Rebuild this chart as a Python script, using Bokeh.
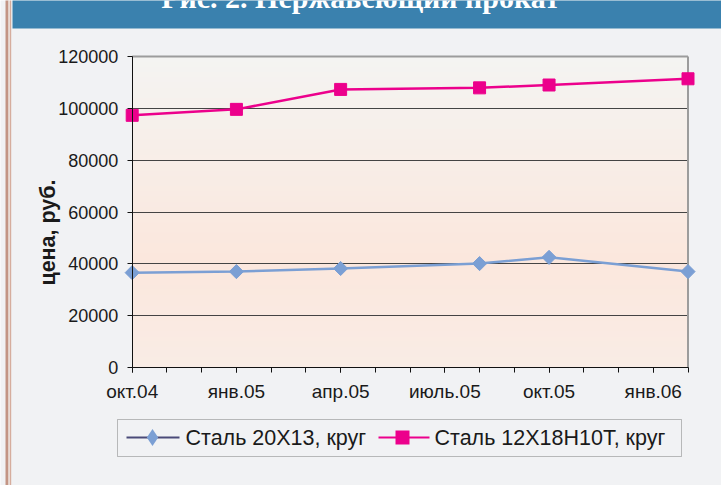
import numpy as np
from bokeh.plotting import figure
from bokeh.models import (Range1d, FixedTicker, BoxAnnotation, Label, PolyAnnotation,
                          Grid, BasicTickFormatter)
from bokeh.embed import file_html
from bokeh.resources import INLINE

# ---------------- data ----------------
title_text = "Рис. 2. Нержавеющий прокат"
y_label = "цена, руб."
series_names = ["Сталь 20Х13, круг", "Сталь 12Х18Н10Т, круг"]
dates = ["2004-10", "2005-01", "2005-04", "2005-08", "2005-10", "2006-02"]
steel_20x13 = [36600, 37000, 38200, 40100, 42500, 37000]
steel_12x18h10t = [97300, 99600, 107300, 107900, 109000, 111400]
tick_months = ["2004-10", "2005-01", "2005-04", "2005-07", "2005-10", "2006-01"]
tick_labels = ["окт.04", "янв.05", "апр.05", "июль.05", "окт.05", "янв.06"]
axis_start, axis_end = "2004-10", "2006-02"
y_ticks = [0, 20000, 40000, 60000, 80000, 100000, 120000]


def month_index(s):
    y, m = map(int, s.split("-"))
    y0, m0 = map(int, axis_start.split("-"))
    return (y - y0) * 12 + (m - m0)


x = [month_index(d) for d in dates]
tick_x = [month_index(d) for d in tick_months]
x_end = month_index(axis_end)
y_max = y_ticks[-1]

# ---------------- layout ----------------
W, H = 721, 485
BG = "#f1f2f4"
# pixel positions of the plot area inside the canvas
PL, PR, PT, PB = 131.7, 687.5, 56.0, 367.0
kx = x_end / (PR - PL)
ky = y_max / (PB - PT)
x_range = Range1d(-PL * kx, x_end + (W - PR) * kx)
y_range = Range1d(-(H - PB) * ky, y_max + PT * ky)

p = figure(width=W, height=H, output_backend="svg", toolbar_location=None,
           x_range=x_range, y_range=y_range,
           min_border_left=0, min_border_right=0,
           min_border_top=0, min_border_bottom=0)
p.background_fill_color = BG
p.border_fill_color = BG
p.outline_line_color = None


def sy(py):  # canvas px from top -> screen units (from bottom)
    return H - py


def sbox(l, r, t, b, color, level="overlay", line_color=None, line_width=1):
    return BoxAnnotation(left=l, right=r, top=sy(t), bottom=sy(b),
                         left_units="screen", right_units="screen",
                         top_units="screen", bottom_units="screen",
                         fill_color=color, fill_alpha=1, line_color=line_color,
                         line_width=line_width, level=level)


# plot-area gradient (decoration)
top_c = np.array([244, 244, 242])
mid_c = np.array([251, 231, 221])
bot_c = np.array([249, 236, 229])
n = 60
for i in range(n):
    b0 = y_max * i / n
    b1 = y_max * (i + 1) / n
    t = 1 - (b0 + b1) / 2 / y_max
    if t < 0.65:
        c = top_c + (mid_c - top_c) * (t / 0.65)
    else:
        c = mid_c + (bot_c - mid_c) * ((t - 0.65) / 0.35)
    c = tuple(int(round(v)) for v in c)
    p.add_layout(BoxAnnotation(left=0, right=x_end, bottom=b0, top=min(b1 + 600, y_max),
                               fill_color="#%02x%02x%02x" % c, fill_alpha=1,
                               line_color=None, level="image"))

# grid
p.xgrid.visible = False
GRID_C = "#444444"
if "cross_bounds" in Grid.properties():
    p.ygrid.ticker = FixedTicker(ticks=y_ticks[1:-1])
    p.ygrid.grid_line_color = GRID_C
    p.ygrid.grid_line_width = 1
    p.ygrid.cross_bounds = (0, x_end)
else:
    p.ygrid.visible = False
    gy = y_ticks[1:-1]
    p.segment(x0=[0] * len(gy), y0=gy, x1=[x_end] * len(gy), y1=gy,
              line_color=GRID_C, line_width=1, level="underlay")

# plot-area border (top and right, grey)
p.add_layout(BoxAnnotation(left=0, right=x_end, top=sy(PT - 1), bottom=sy(PT + 1),
                           top_units="screen", bottom_units="screen",
                           fill_color="#9c9c9c", fill_alpha=1, line_color=None,
                           level="underlay"))
p.add_layout(BoxAnnotation(left=PR - 1, right=PR + 1, top=y_max, bottom=0,
                           left_units="screen", right_units="screen",
                           fill_color="#9c9c9c", fill_alpha=1, line_color=None,
                           level="underlay"))

# axes
FONT = "Liberation Sans"
yax = p.yaxis[0]
yax.fixed_location = 0
yax.bounds = (0, y_max)
yax.ticker = FixedTicker(ticks=y_ticks)
yax.formatter = BasicTickFormatter(use_scientific=False)
yax.major_tick_out = 5
yax.major_tick_in = 0
yax.minor_tick_out = 0
yax.minor_tick_in = 0
yax.axis_line_color = "#111111"
yax.major_tick_line_color = "#111111"
yax.major_label_text_font = FONT
yax.major_label_text_font_size = "18px"
yax.major_label_text_color = "#1a1a1a"
yax.major_label_standoff = 9

xax = p.xaxis[0]
xax.fixed_location = 0
xax.bounds = (0, x_end)
xax.ticker = FixedTicker(ticks=tick_x, minor_ticks=list(range(0, x_end + 1)))
xax.major_label_overrides = {tx: lab for tx, lab in zip(tick_x, tick_labels)}
xax.major_tick_out = 5
xax.major_tick_in = 0
xax.minor_tick_out = 5
xax.minor_tick_in = 0
xax.axis_line_color = "#111111"
xax.major_tick_line_color = "#111111"
xax.minor_tick_line_color = "#111111"
xax.major_label_text_font = FONT
xax.major_label_text_font_size = "19px"
xax.major_label_text_color = "#1a1a1a"
xax.major_label_standoff = 8

# series
BLUE = "#7b9fd4"
PINK = "#ec008c"
p.line(x, steel_20x13, line_color=BLUE, line_width=2.5)
p.scatter(x, steel_20x13, marker="square", size=10, angle=np.pi / 4,
          fill_color=BLUE, line_color=BLUE)
p.line(x, steel_12x18h10t, line_color=PINK, line_width=2.5)
p.scatter(x, steel_12x18h10t, marker="square", size=12,
          fill_color=PINK, line_color=PINK)

# legend (drawn as annotations to match the original's glyphs)
LY = 437
p.add_layout(sbox(117, 681, 419, 456, BG, line_color="#333333", line_width=1))
p.add_layout(sbox(126, 179, LY - 1, LY + 1, "#4a4a78"))
p.add_layout(PolyAnnotation(xs=[152, 157.7, 152, 146.3],
                            ys=[sy(LY - 8.5), sy(LY), sy(LY + 8.5), sy(LY)],
                            xs_units="screen", ys_units="screen",
                            fill_color=BLUE, fill_alpha=1, line_color=None,
                            level="overlay"))
p.add_layout(Label(x=185, y=sy(LY), x_units="screen", y_units="screen",
                   text=series_names[0], text_align="left", text_baseline="middle",
                   text_font=FONT, text_font_size="21.5px", text_color="#1a1a1a",
                   level="overlay"))
p.add_layout(sbox(378, 429, LY - 1, LY + 1, PINK))
p.add_layout(sbox(395, 409, LY - 7, LY + 7, PINK))
p.add_layout(Label(x=434, y=sy(LY), x_units="screen", y_units="screen",
                   text=series_names[1], text_align="left", text_baseline="middle",
                   text_font=FONT, text_font_size="21.5px", text_color="#1a1a1a",
                   level="overlay"))

# y label
p.add_layout(Label(x=47, y=sy(232), x_units="screen", y_units="screen",
                   text=y_label, angle=np.pi / 2, text_align="center",
                   text_baseline="middle", text_font=FONT,
                   text_font_style="bold", text_font_size="21.5px",
                   text_color="#1a1a1a"))

# header bar and page border
p.add_layout(sbox(12, W + 2, -2, 28, "#3a81ae"))
p.add_layout(Label(x=360, y=sy(-3), x_units="screen", y_units="screen",
                   text=title_text, text_align="center", text_baseline="alphabetic",
                   text_font="Liberation Serif", text_font_style="bold",
                   text_font_size="30px", text_color="white", level="overlay"))
for (a, b, col) in [(5, 8, "#c39585"), (8, 9.5, "#eadbd4"), (9.5, 10.7, "#d6ad9d")]:
    p.add_layout(sbox(a, b, -2, H + 2, col))

open("out.html", "w").write(file_html(p, INLINE))
